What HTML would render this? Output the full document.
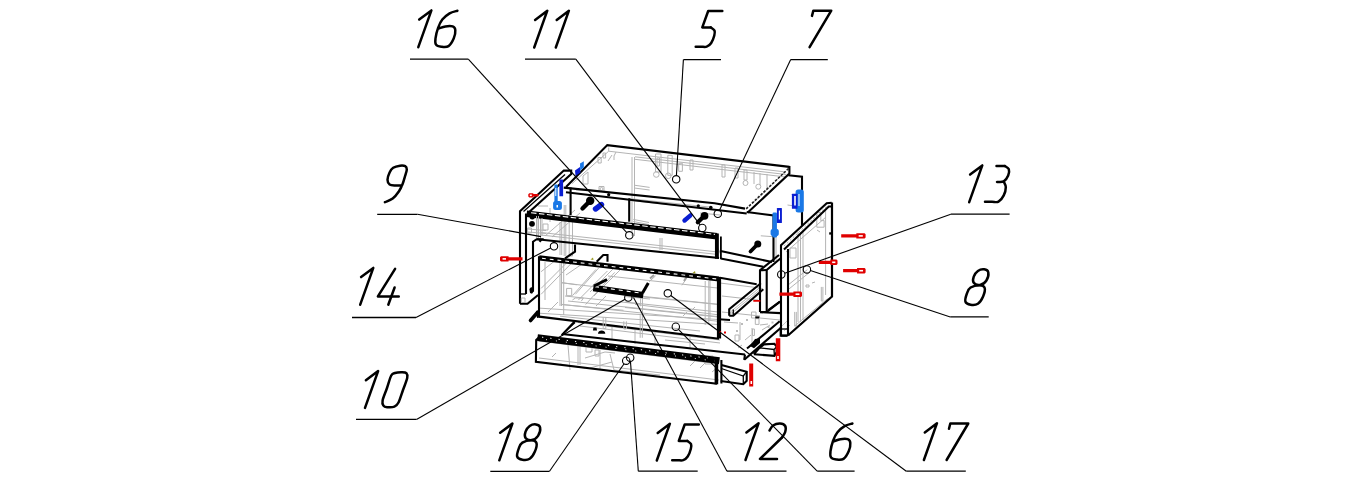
<!DOCTYPE html>
<html><head><meta charset="utf-8"><title>Assembly</title>
<style>
html,body{margin:0;padding:0;background:#fff;}
body{width:1361px;height:480px;overflow:hidden;font-family:"Liberation Sans",sans-serif;}
svg{display:block;}
.g{fill:none;stroke:#000;stroke-width:2.5;stroke-linecap:round;stroke-linejoin:round;}
.u{fill:none;stroke:#000;stroke-width:1.3;}
.l{fill:none;stroke:#000;stroke-width:1.1;}
.c{fill:none;stroke:#000;stroke-width:1.1;}
.k{fill:none;stroke:#000;stroke-width:2.1;stroke-linejoin:miter;}
.k3{fill:none;stroke:#000;stroke-width:2.2;}
.k1{fill:none;stroke:#000;stroke-width:1.3;}
.gr{fill:none;stroke:#b4b4b4;stroke-width:1;}
.gr2{fill:none;stroke:#c8c8c8;stroke-width:1;}
.dash{fill:none;stroke:#fff;stroke-width:1;stroke-dasharray:2.5 3;}
.r{fill:#e00000;stroke:none;}
.b{fill:#1e5ae6;stroke:none;}
.b2{fill:#0a14c8;stroke:none;}
.bk{fill:#000;stroke:none;}
.y{fill:#9a9a20;stroke:none;}
</style></head>
<body>
<svg width="1361" height="480" viewBox="0 0 1361 480">
<rect width="1361" height="480" fill="#fff"/>
<g id="drawing">
<path class="gr" d="M571.9,183.7 L608.7,151.2 L786,172"/>
<path class="gr" d="M608.7,147.5 L608.7,151.2"/>
<path class="gr" d="M635,156.8 L786,174.5"/>
<path class="gr" d="M635,159.3 L786,177"/>
<path class="gr" d="M632,157 L632,236"/>
<path class="gr" d="M634.5,157 L634.5,236"/>
<path class="gr" d="M633.3,219.4 L649,222.5"/>
<path class="gr" d="M633.3,221.5 L649,224.6"/>
<path class="gr" d="M634.3,185.2 L649.6,187.4"/>
<path class="gr" d="M634.3,188 L649.6,190"/>
<path class="gr" d="M655.5,154 h5.5 v18 h-5.5 z M657,158 h2.5 v8 h-2.5z"/>
<circle class="gr" cx="656.3" cy="174.5" r="2.8"/>
<path class="gr" d="M667.8,155.3 h4.4 v20 h-4.4 z"/>
<circle class="gr" cx="668.3" cy="175.8" r="2.8"/>
<path class="gr" d="M678.7,163.3 h3.7 v8 h-3.7 z"/>
<path class="gr" d="M690,160 h3 v10 h-3 z M722,165 h3 v12 h-3 z M735,168 h3 v10 h-3z M744,170 h3 v10 h-3z"/>
<circle class="gr" cx="745.5" cy="183" r="2.5"/>
<circle class="gr" cx="758.3" cy="186.7" r="2.5"/>
<path class="gr" d="M754,172 v12 M760,173 v12 M767,174 v14"/>
<path class="gr" d="M612,155 l-4,6 M616,152 l-2,4 v4"/>
<path d="M785,172 L752,204" stroke="#aaa" stroke-width="1" fill="none"/>
<path class="gr" d="M583,176 L588,172 L588,184 L583,184 L583,176"/>
<path class="gr" d="M576,190 L590,190"/>
<path class="gr" d="M598,157.5 h3.2 v5.5 h-3.2z M603,153 h2.6 v5 h-2.6z M599,186.5 h5 v5 h-5z"/>
<circle class="gr" cx="601.5" cy="189" r="1.5"/>
<path class="gr" d="M538,206 L548,206"/>
<path class="gr" d="M550,208 L550,222"/>
<path class="gr" d="M541,235 L718,254.5"/>
<path class="gr" d="M541,232.5 L718,252"/>
<path class="gr" d="M560,222 L560,255"/>
<path class="gr" d="M561.7,222 L561.7,255"/>
<path class="gr" d="M564.2,205 L564.2,256"/>
<path class="gr" d="M565.8,205 L565.8,256"/>
<path class="gr" d="M569.2,220 L569.2,256 L572.5,256 L572.5,220"/>
<path class="gr" d="M538,218 L538,240"/>
<path class="gr" d="M540.5,218 L540.5,240"/>
<path class="gr" d="M545,236 L575,210"/>
<path class="gr" d="M552,237 L580,213"/>
<path class="gr" d="M660,238 L660,250"/>
<path class="gr" d="M662,238 L662,250"/>
<path class="gr" d="M717,246 L721,255"/>
<path class="gr" d="M629,198.6 L712,207.3"/>
<path class="gr" d="M629,200.4 L712,209.1"/>
<path class="gr" d="M700,213 L720,215"/>
<path class="gr" d="M541.1,271.7 L555,260.7"/>
<path class="gr" d="M541.1,288.4 L566.6,262.9"/>
<path class="gr" d="M541.1,294.3 L571,263.7"/>
<path class="gr" d="M572.4,295.7 L595.8,269.5"/>
<path class="gr" d="M575.4,294.3 L598.7,268"/>
<path class="gr" d="M578.3,300.1 L607.4,271"/>
<path class="gr" d="M585.6,304.5 L614.7,272.4"/>
<path class="gr" d="M548,312 L558,302"/>
<path class="gr" d="M596,306 L606,296"/>
<path class="gr" d="M561.5,282.6 L576.8,284.8"/>
<path class="gr" d="M560.8,304.5 L623.5,310.3"/>
<path class="gr" d="M538.9,308.1 L718,319.5"/>
<path class="gr" d="M538.9,313.2 L718,324.5"/>
<path class="gr" d="M639.6,296 L718.3,304.3"/>
<path class="gr" d="M625,302 L718.3,312"/>
<path class="gr" d="M625,307.5 L718.3,317"/>
<path class="gr" d="M625,296.5 L650,299"/>
<path class="gr" d="M561.9,282.8 L608.7,288.4"/>
<path class="gr" d="M561.9,304.4 L717.4,321.2"/>
<path class="gr" d="M568,301 L717.4,316.5"/>
<path class="gr" d="M642.5,296.9 L717.4,304.4"/>
<path class="gr" d="M635,304.4 L717.4,314.7"/>
<path class="gr" d="M608,276 L717.4,288"/>
<path class="gr" d="M565,296 L640,304"/>
<path class="gr" d="M640.6,296.9 L640.6,306.2"/>
<path class="gr" d="M710,280 L710,320"/>
<path class="gr" d="M563.7,258 L563.7,315"/>
<path class="gr" d="M590,292 L616,266"/>
<path class="gr" d="M594,296 L620,270"/>
<path class="gr" d="M566,275 L585,262"/>
<path class="gr" d="M560,262 L560,306"/>
<path class="gr" d="M561.5,262 L561.5,306"/>
<path class="gr" d="M705.2,281 L705.2,325"/>
<path class="gr" d="M708.8,281 L708.8,325"/>
<path class="gr" d="M642.5,297 L642.5,332"/>
<path class="gr" d="M545,262 L545,300"/>
<path class="gr" d="M566.6,288.4 h5.1 v7.3 h-5.1z M572.4,300 l3,-2 h8 l-2,3 M649,281.8 l6.6,-6 M681.9,285.3 l5.8,-8.7 M683,316 l4,-4 M692,310 l3,-3"/>
<path d="M650,278.6 l4,-3.5 M684,281 l2.5,-4" stroke="#a0a0a0" stroke-width="2" fill="none"/>
<path class="gr" d="M720,283 L760,288"/>
<path class="gr" d="M722,296 L758,300"/>
<path class="gr" d="M798,232 L798,322"/>
<path class="gr" d="M800.5,232 L800.5,322"/>
<path class="gr" d="M803,230 L803,320"/>
<path class="gr" d="M825.6,211 L825.6,295"/>
<path class="gr" d="M794.7,326 L827.6,298.6"/>
<path class="gr" d="M787.7,285.3 L807.3,269.7"/>
<path class="gr" d="M787.7,290 L810,272"/>
<path class="gr" d="M786,252 L826,217"/>
<path class="gr" d="M821.3,286.9 L821.3,301 L822.9,301 L822.9,286.9"/>
<path class="gr" d="M794.7,311.9 L794.7,326 L796.3,326 L796.3,311.9"/>
<path class="gr" d="M816.8,212.6 h4 v8 h3.3 v6.6 h-7.3z M817,230 l3,2 M790,248 h6 v10 h-6z M806,285 h3 v2 h-3z M812,283 l3,-1"/>
<path class="gr2" d="M784,331 l6,-6 M782,326 l5,-5"/>
<path d="M829.2,232.3 h2.5 v2.3 h-2.5z" fill="#000"/>
<path class="k1" d="M781.5,329 L787.5,329"/>
<path class="gr" d="M731,311.5 L761,286.5"/>
<path class="gr" d="M732,313 L762,288"/>
<path class="gr" d="M722,312 L760,316"/>
<path class="gr" d="M760,318 L780,320"/>
<path class="gr" d="M740,322 L740,340"/>
<path class="gr" d="M752,328 L752,344"/>
<path class="gr" d="M762,330 L770,325"/>
<path class="gr" d="M735,335 h4 v6 h-4z M745,340 l6,-5 M738,348 l4,-3"/>
<path d="M741,323 h2 v2 h-2z M746,319 h2 v2 h-2z M767.5,326 h2 v2 h-2z M771.5,321.5 h2 v2 h-2z M736,330 h2 v2 h-2z" fill="#bbb"/>
<path class="gr" d="M751.5,312 h4.5 v6 h-4.5z M755.3,318.7 h3.7 v5.7 h-3.7z M752.5,329 h1.9 v6.6 h-1.9z M760,325 l8,-1 M724,322 l14,1"/>
<path class="gr" d="M760.8,235.8 L773.3,236.7"/>
<path class="gr" d="M787.5,205 L793.3,205.8"/>
<path class="gr" d="M776,218 L776,262"/>
<path class="gr" d="M539,341 L719,364"/>
<path class="gr" d="M539,358 L719,380"/>
<path class="gr" d="M568,345 L570,370"/>
<path class="gr" d="M578,342 L578,365"/>
<path class="gr" d="M580,342 L580,365"/>
<path class="gr" d="M585,358 L605,352 L615,353"/>
<path class="gr" d="M590,368 L612,362"/>
<path class="gr" d="M600,350 L600,370"/>
<path class="gr" d="M552,357 L556,353"/>
<path class="gr" d="M560,364 L585,368"/>
<path class="gr" d="M610,354 L614,370 L660,375"/>
<path class="gr" d="M586,346 h6 v6 h-6z M595,350 h4 v6 h-4z M690,366 l6,-6 M700,368 l5,-5 M705,356 h8 v8 h-8z M712,372 l6,-5"/>
<path class="gr" d="M578,322.5 L720,340"/>
<path class="gr" d="M580,326 L720,343"/>
<path class="gr" d="M612,325 L612,340"/>
<path class="gr" d="M635,329 L635,344"/>
<path class="gr" d="M655,332 L655,346"/>
<path class="gr" d="M665,340 L705,344"/>
<path class="gr" d="M690,335 L690,348"/>
<path class="k" d="M566,187 L607.3,145.1 L789.4,166.9"/>
<path d="M788.5,168.5 L745.5,209.5" stroke="#222" stroke-width="1.6" stroke-dasharray="2.5 1.5" fill="none"/>
<path class="k" d="M789.4,166 L789.4,173.5 L747.5,212.8"/>
<path class="k" d="M563.7,187.6 L714.6,203.3 L745,208.6"/>
<path class="k" d="M566,192.3 L746.7,213.5"/>
<path class="k" d="M629.2,198.3 L629.2,221.7"/>
<path class="k" d="M746.7,212 L773.5,215.5 L773.5,262"/>
<path class="k" d="M788.3,175.2 L802,176.7 L802,225.6"/>
<path class="k" d="M520,303.8 L520,211.2 L563.8,170.6 L571.2,170.6 L571.2,174 L527.5,213.5"/>
<path class="k" d="M526,294 L526,213.5"/>
<path class="k1" d="M523.5,211.5 L565,174.5"/>
<path class="k" d="M520,303.8 L527.5,303.8 L538.1,295"/>
<path class="k1" d="M520,294 L526,294"/>
<path class="gr" d="M521.3,298 h3.7 v4.5 h-3.7z"/>
<path class="k" d="M570.6,187.5 L570.6,215"/>
<path d="M526.7,213.7 L717,236.2" stroke="#000" stroke-width="6.6" fill="none"/>
<path d="M531,212.7 L717,234.6" stroke="#fff" stroke-width="1.1" stroke-dasharray="5.5 2.5" fill="none"/>
<path class="k" d="M536.7,239.2 L719,258"/>
<path d="M716.9,233.5 V258.7" stroke="#000" stroke-width="3.9" fill="none"/>
<path d="M720.9,236.5 V259" stroke="#000" stroke-width="1.8" fill="none"/>
<path class="k" d="M720.6,251 L772,262"/>
<path class="k" d="M720.6,258.5 L763.3,266.7"/>
<circle class="bk" cx="532.3" cy="216.8" r="2.7"/>
<circle class="bk" cx="532" cy="223.8" r="2.9"/>
<path class="gr" d="M528,229 L546,230.5"/>
<path class="gr" d="M528,232 L546,233.5"/>
<path class="gr" d="M536.5,216 L536.5,238"/>
<path class="gr" d="M538.5,216 L538.5,238"/>
<path class="gr" d="M542,218 L542,236"/>
<path class="gr" d="M527.5,228 h4 v5 h-4z M543,224 h5 v6 h-5z"/>
<path class="k" d="M533,291.5 L533,241.7 L536.7,239.2 L541.7,239.2 L539.5,241.7"/>
<path class="bk" d="M529.4,289 L531,287.3 L533.5,287.5 L534,291 L532,293.8 L530,293 Z"/>
<path class="k" d="M565,258.3 L575,251.7 L575,244.5"/>
<path d="M539.2,257.8 L719,279" stroke="#000" stroke-width="5.2" fill="none"/>
<path d="M542,258.3 L719,279.2" stroke="#fff" stroke-width="1.1" stroke-dasharray="3.8 4" fill="none"/>
<path class="k" d="M539,256.2 L539,316.8"/>
<path class="k" d="M539,316.6 L719,338.7"/>
<path d="M719,277 V338.5" stroke="#000" stroke-width="4.2" fill="none"/>
<path class="k" d="M596.7,261.7 L603.3,255 L607.5,255 L607.5,261.7"/>
<path class="y" d="M590.5,259.5 L593,257.5 L593.5,260 Z"/>
<path class="y" d="M692.5,273 L695,271 L695.5,273.5 Z"/>
<path class="k" d="M720,277.8 L756.7,284.2"/>
<path d="M593.3,288 L643.3,295.1" stroke="#000" stroke-width="6.5" fill="none"/>
<path d="M595,286.6 L642,293.3" stroke="#fff" stroke-width="1.1" stroke-dasharray="4 4" fill="none"/>
<path d="M594,286 L607,279.5" stroke="#000" stroke-width="3" fill="none"/>
<path d="M642.5,293 L648.3,283" stroke="#000" stroke-width="3" fill="none"/>
<path d="M530.5,320.5 L537.5,312.5" stroke="#000" stroke-width="3.6" stroke-linecap="round" fill="none"/>
<path class="bk" d="M536,311 L539.5,310 L540,317.5 L537,318 Z"/>
<path class="k" d="M561.7,335.2 L574.4,321.8"/>
<path class="gr" d="M603.2,317.2 L603.2,328.5 L605.8,328.5 L605.8,317.2"/>
<path class="gr" d="M623.8,321.3 L623.8,329 L626.4,329 L626.4,321.3"/>
<path class="gr" d="M640.2,315.1 L640.2,337.8"/>
<path class="gr" d="M642.3,315.1 L642.3,337.8"/>
<path class="gr" d="M560,316.2 L700,331"/>
<path class="bk" d="M592.9,330.6 L593.5,327.5 L596.5,327.5 L597,330.6 Z"/>
<path class="k1" d="M563.3,333.3 L575,322.5"/>
<path class="k" d="M562,334 L745,354.5"/>
<path class="k" d="M744.25,359.8 L781.5,327.2"/>
<path class="k" d="M747,348.5 L779.7,321.3"/>
<path class="k" d="M745,354.5 L744.25,359.8"/>
<path class="k" d="M760,312.2 L780.6,313.1"/>
<path class="k" d="M718.75,319.3 L730,320"/>
<rect x="755.3" y="316.4" width="4.2" height="2" fill="#000"/>
<path class="k" d="M780.7,327.2 L780.7,335.8 L787,335.8"/>
<path d="M537.5,337.6 L719.4,360.6" stroke="#000" stroke-width="7" fill="none"/>
<path d="M542,337.2 L719.4,359.6" stroke="#fff" stroke-width="1" stroke-dasharray="1.3 7" fill="none"/>
<path d="M546,339.6 L719.4,361.6" stroke="#fff" stroke-width="0.9" stroke-dasharray="1 9" fill="none"/>
<path class="k" d="M538.8,337.5 L536.2,340 L535.9,361.7 L717,383.8"/>
<path d="M716.4,358 V384.3" stroke="#000" stroke-width="3.6" fill="none"/>
<path class="k" d="M721.4,360 L721.4,383.5"/>
<path class="k" d="M721.4,365 L746.7,371.7 L746.7,380.8 L743.3,384.2 L720.8,381"/>
<path class="k1" d="M743.3,376 L743.3,384.2"/>
<path class="k1" d="M721.4,368.5 L743.3,376 L746.7,371.7"/>
<path class="k" d="M753.8,354.2 L759.5,347.8 L764,344.4 L774.4,343.8 L776.7,346.7 L776.7,352 L774.4,355.9 L753.8,354.2"/>
<path class="k1" d="M759.5,347.8 L774,349.5 L776.7,346.7"/>
<path class="k1" d="M774,349.5 L774.4,355.9"/>
<path class="bk" d="M750,346 L755,339 L760,338.3 L760,343 L754,348.3 Z"/>
<path class="k" d="M781,336 L781,245.3 L826.7,203.3 L831.7,202.8"/>
<path class="k3" d="M832,202.5 L832,296.5 L788,335.5"/>
<path class="k" d="M788,335.5 L788,249"/>
<path class="k" d="M781,335.5 L788,335.5"/>
<path class="k" d="M784,249.5 L828.8,206.5 L832,206.5"/>
<path d="M784,246 L828,205" stroke="#aaa" stroke-width="1" stroke-dasharray="2 2" fill="none"/>
<path class="k" d="M760,312 L760,270.3 L779,255"/>
<path class="k" d="M766.7,312 L766.7,270 L781,258"/>
<path class="k" d="M760,270.3 L766.7,270"/>
<path class="k" d="M760,312 L766.7,312 L780,301.7"/>
<path class="k" d="M768.3,310 L780,301.7"/>
<path class="k" d="M729.2,315.8 L729.2,309.2 L760.8,283.3"/>
<path class="k" d="M729.2,315.8 L733.3,315.8 L763.3,289.2"/>
<path class="k1" d="M733.3,309.5 L733.3,315.8"/>
<path class="r" d="M501,256.2 L508.55,256.2 L508.55,257.3 L522.5,257.3 L522.5,260.5 L508.55,260.5 L508.55,261.6 L501,261.6 L500,260.6 L500,257.2 Z"/>
<rect x="502.56" y="258.1" width="3.42" height="1.6" fill="#fff"/>
<path class="r" d="M529.3,193.2 L533.3,193.2 L533.3,194.1 L538.5,194.1 L538.5,196.5 L533.3,196.5 L533.3,197.4 L529.3,197.4 L528.3,196.4 L528.3,194.2 Z"/>
<rect x="529.8" y="194.5" width="2" height="1.6" fill="#fff"/>
<path class="r" d="M841.2,234.3 L856.33,234.3 L856.33,233.2 L864.6,233.2 L865.6,234.2 L865.6,237.6 L864.6,238.6 L856.33,238.6 L856.33,237.5 L841.2,237.5 Z"/>
<rect x="858.65" y="235.1" width="4.17" height="1.6" fill="#fff"/>
<path class="r" d="M843.1,269.1 L857.05,269.1 L857.05,268 L864.6,268 L865.6,269 L865.6,272.4 L864.6,273.4 L857.05,273.4 L857.05,272.3 L843.1,272.3 Z"/>
<rect x="859.19" y="269.9" width="3.85" height="1.6" fill="#fff"/>
<path class="r" d="M818.8,260.7 L830.39,260.7 L830.39,259.6 L836.5,259.6 L837.5,260.6 L837.5,264 L836.5,265 L830.39,265 L830.39,263.9 L818.8,263.9 Z"/>
<rect x="832.17" y="261.5" width="3.2" height="1.6" fill="#fff"/>
<path class="r" d="M779.4,292.6 L793.41,292.6 L793.41,291.5 L801,291.5 L802,292.5 L802,295.9 L801,296.9 L793.41,296.9 L793.41,295.8 L779.4,295.8 Z"/>
<rect x="795.56" y="293.4" width="3.86" height="1.6" fill="#fff"/>
<path class="r" d="M749.2,363.5 h4 v23 h-4z M775.8,338.3 h4.5 v23 h-4.5z M753.3,300 h7 v1.8 h-7z"/>
<path d="M750.5,381 h1.6 v3 h-1.6z M777.2,356 h1.6 v3 h-1.6z" fill="#fff"/>
<path class="r" d="M719,331 L721,331 L721,333 L719,333 Z"/>
<path class="r" d="M724,331.5 L726,331.5 L726,333.5 L724,333.5 Z"/>
<path fill="#0a1ed2" d="M575,170.5 L580,166.9 L580.5,172.5 L575.5,176 Z"/>
<path fill="#1a78e6" d="M580,163.5 L583.8,161.2 L583.8,167.5 L580.2,170.5 Z"/>
<rect x="559.4" y="179.4" width="3.7" height="16.8" rx="0.5" fill="#0a1ed2"/>
<rect x="554.4" y="184.5" width="3.3" height="20" rx="1" fill="#1a78e6"/>
<rect x="553.1" y="201" width="8.8" height="9" rx="2.5" fill="#1a78e6"/>
<rect x="556.5" y="205" width="1.5" height="2.5" fill="#fff"/>
<rect x="555.3" y="188" width="1" height="8" fill="#fff"/>
<rect x="795.6" y="189.4" width="8.2" height="23.1" rx="2.5" fill="#1a78e6"/>
<rect x="791.9" y="193.7" width="5.6" height="15" rx="0.5" fill="#0a1ed2"/>
<rect x="794.2" y="196" width="1.6" height="9.5" fill="#fff"/>
<rect x="798.5" y="194" width="1" height="12" fill="#fff"/>
<rect x="772.5" y="212.5" width="4.4" height="25" rx="1.2" fill="#1a78e6"/>
<rect x="770.6" y="228.7" width="8.2" height="7.6" rx="2.8" fill="#1a78e6"/>
<rect x="776.9" y="208.1" width="5" height="15" rx="0.5" fill="#0a1ed2"/>
<rect x="778.8" y="210.5" width="1.2" height="9" fill="#fff"/>
<path d="M595.5,209 L601.5,204.5" stroke="#0a1ed2" stroke-width="5.4" stroke-linecap="round" fill="none"/>
<path d="M684.5,220.5 L690.5,215.3" stroke="#0a1ed2" stroke-width="4.4" stroke-linecap="round" fill="none"/>
<path d="M590.2,200.8 L582.5,208.5" stroke="#000" stroke-width="4.4" stroke-linecap="round" fill="none"/>
<circle class="bk" cx="590.2" cy="200.8" r="4.2"/>
<path d="M704.5,215.8 L697.8,222.2" stroke="#000" stroke-width="4.2" stroke-linecap="round" fill="none"/>
<circle class="bk" cx="704.5" cy="215.8" r="3.9"/>
<path d="M757.8,244 L750.5,251.5" stroke="#000" stroke-width="3.8" stroke-linecap="round" fill="none"/>
<circle class="bk" cx="757.8" cy="244" r="3.5"/>
<circle class="bk" cx="698.3" cy="205.8" r="1.6"/>
<circle class="bk" cx="710.8" cy="207.5" r="1.8"/>
<circle class="bk" cx="608.7" cy="194.7" r="1.6"/>
<path d="M598,333.7 C598,329.5 605.3,329.5 605.3,333.7 Z" fill="#000"/>
</g>
<g id="leaders">
<path class="u" d="M410,59.2 H468.3"/>
<path class="l" d="M468.3,59.2 L626.8,232.57"/>
<path class="u" d="M525,59.2 H575.8"/>
<path class="l" d="M575.8,59.2 L700.08,224.94"/>
<path class="u" d="M683.4,59.6 H721"/>
<path class="l" d="M683.4,59.6 L676.42,175.61"/>
<path class="u" d="M790.7,59.6 H827.8"/>
<path class="l" d="M790.7,59.6 L719.38,210.45"/>
<path class="u" d="M377.2,214.3 H417.5"/>
<path class="l" d="M417.5,214.3 L541,236.6"/>
<path class="u" d="M950.8,214.2 H1009.6"/>
<path class="l" d="M950.8,214.2 L784.74,273.16"/>
<path class="u" d="M950.3,316.9 H988.7"/>
<path class="l" d="M950.3,316.9 L810.41,270.56"/>
<path class="u" d="M352,317.5 H416"/>
<path class="l" d="M416,317.5 L550.71,248"/>
<path class="u" d="M356,419.4 H416.5"/>
<path class="l" d="M416.5,419.4 L625.09,299.35"/>
<path class="u" d="M490.3,471.3 H549.5"/>
<path class="l" d="M549.5,471.3 L624.09,363.74"/>
<path class="u" d="M638.3,471.2 H697.7"/>
<path class="l" d="M638.3,471.2 L630.46,361.39"/>
<path class="u" d="M727,471.2 H786.5"/>
<path class="l" d="M727,471.2 L633.5,297.5"/>
<path class="u" d="M817.2,471.2 H854.6"/>
<path class="l" d="M817.2,471.2 L678.39,329.34"/>
<path class="u" d="M906.3,471.2 H965.8"/>
<path class="l" d="M906.3,471.2 L670.77,295.51"/>
<circle class="c" cx="667.8" cy="293.3" r="3.7"/>
<circle class="c" cx="628.3" cy="297.5" r="3.7"/>
<circle class="c" cx="806.9" cy="269.4" r="3.7"/>
<circle class="c" cx="702.3" cy="227.9" r="3.7"/>
<circle class="c" cx="554" cy="246.3" r="3.7"/>
<circle class="c" cx="626.2" cy="360.7" r="3.7"/>
<circle class="c" cx="630.2" cy="357.7" r="3.7"/>
<circle class="c" cx="781.25" cy="274.4" r="3.7"/>
<circle class="c" cx="675.8" cy="326.7" r="3.7"/>
<circle class="c" cx="717.8" cy="213.8" r="3.7"/>
<circle class="c" cx="629.3" cy="235.3" r="3.7"/>
<circle class="c" cx="676.2" cy="179.3" r="3.7"/>
</g>
<g id="labels">
<path class="g" d="M419.2,19.6 L431.4,10.4 L418.3,47.2"/>
<path class="g" d="M457.4,10.7 C456.1,11.13 452.12,11.82 449.6,13.3 C447.08,14.78 444.22,17.17 442.3,19.6 C440.38,22.03 439.23,24.78 438.1,27.9 C436.97,31.02 435.85,35.52 435.5,38.3 C435.15,41.08 435.03,43.2 436,44.6 C436.97,46 439.22,46.45 441.3,46.7 C443.38,46.95 446.42,47.5 448.5,46.1 C450.58,44.7 452.67,40.98 453.8,38.3 C454.93,35.62 455.48,31.98 455.3,30 C455.12,28.02 454.35,27 452.7,26.4 C451.05,25.8 447.65,26.07 445.4,26.4 C443.15,26.73 440.23,28.07 439.2,28.4"/>
<path class="g" d="M535.1,19.9 L547.3,10.7 L534.2,47.5"/>
<path class="g" d="M556.7,19.9 L568.9,10.7 L555.8,47.5"/>
<path class="g" d="M722.3,11 L708.2,11 L702.3,27.4 L710.8,27.4"/>
<path class="g" d="M710.8,27.4 C711.42,27.92 713.92,29.15 714.5,30.5 C715.08,31.85 714.85,33.42 714.3,35.5 C713.75,37.58 712.47,41.13 711.2,43 C709.93,44.87 708.4,46.08 706.7,46.7 C705,47.32 702.83,46.7 701,46.7 C699.17,46.7 696.58,46.7 695.7,46.7"/>
<path class="g" d="M812,15.9 L813.3,10.7 L831.25,10.7 L809.6,47.2"/>
<path class="g" d="M384.9,202.2 C386.2,201.58 390.35,200.33 392.7,198.5 C395.05,196.67 397.35,193.62 399,191.2 C400.65,188.78 401.57,186.6 402.6,184 C403.63,181.4 404.5,178.03 405.2,175.6 C405.9,173.17 406.8,170.97 406.8,169.4 C406.8,167.83 406.33,166.82 405.2,166.2 C404.07,165.58 402,165.43 400,165.7 C398,165.97 394.93,166.67 393.2,167.8 C391.47,168.93 390.55,170.5 389.6,172.5 C388.65,174.5 387.5,177.8 387.5,179.8 C387.5,181.8 388.22,183.55 389.6,184.5 C390.98,185.45 393.73,185.33 395.8,185.5 C397.87,185.67 400.97,185.5 402,185.5"/>
<path class="g" d="M970.1,174.6 L982.3,165.4 L969.2,202.2"/>
<path class="g" d="M996.5,166 L1004.8,166"/>
<path class="g" d="M1004.8,166 C1005.47,166.53 1008.23,167.6 1008.8,169.2 C1009.37,170.8 1009.04,173.57 1008.2,175.6 C1007.36,177.63 1005.62,180.35 1003.75,181.4 C1001.88,182.45 998.12,181.82 997,181.9"/>
<path class="g" d="M1003.75,181.6 C1004.09,182.53 1005.8,184.9 1005.8,187.2 C1005.8,189.5 1004.97,192.98 1003.75,195.4 C1002.53,197.82 1000.46,200.65 998.5,201.7 C996.54,202.75 994.25,201.7 992,201.7 C989.75,201.7 986.17,201.7 985,201.7"/>
<path class="g" d="M984.2,269.3 C985.93,269.55 987.96,270.49 988.3,272.4 C988.64,274.31 987.63,278.67 986.25,280.75 C984.87,282.83 982.08,284.56 980,284.9 C977.92,285.24 974.79,284.18 973.75,282.8 C972.71,281.42 973.06,278.58 973.75,276.6 C974.44,274.62 976.16,272.12 977.9,270.9 C979.64,269.68 982.47,269.05 984.2,269.3 Z"/>
<path class="g" d="M980,285.2 C982.35,285.28 984.18,286.13 984.7,288 C985.22,289.87 984.23,293.78 983.1,296.4 C981.97,299.02 979.98,302.32 977.9,303.7 C975.82,305.08 972.68,305.05 970.6,304.7 C968.52,304.35 966,303.51 965.4,301.6 C964.8,299.69 966.13,295.6 967,293.25 C967.87,290.9 968.43,288.84 970.6,287.5 C972.77,286.16 977.65,285.12 980,285.2 Z"/>
<path class="g" d="M361.1,277.1 L373.3,267.9 L360.2,304.7"/>
<path class="g" d="M395.1,268.8 L377.9,296.4 L398.75,296.4"/>
<path class="g" d="M394.6,287.5 L388.3,304.7"/>
<path class="g" d="M365.9,380.3 L378.1,371.1 L365,407.9"/>
<path class="g" d="M401.7,372.3 C399.8,372.27 396.74,372.47 395,373 C393.26,373.53 392.58,373 391.25,375.5 C389.92,378 388.44,383.85 387,388 C385.56,392.15 383.2,397.47 382.6,400.4 C382,403.33 382.65,404.47 383.4,405.6 C384.15,406.73 385.27,407.02 387.1,407.2 C388.93,407.38 392.5,407.48 394.4,406.7 C396.3,405.92 397.07,405.28 398.5,402.5 C399.93,399.72 401.55,394.08 403,390 C404.45,385.92 406.63,380.8 407.2,378 C407.77,375.2 407.32,374.15 406.4,373.2 C405.48,372.25 403.6,372.33 401.7,372.3 Z"/>
<path class="g" d="M500.2,432.7 L512.4,423.5 L499.3,460.3"/>
<path class="g" d="M536,424.4 C537.73,424.65 539.76,425.59 540.1,427.5 C540.44,429.41 539.43,433.77 538.05,435.85 C536.67,437.93 533.88,439.66 531.8,440 C529.72,440.34 526.59,439.28 525.55,437.9 C524.51,436.52 524.86,433.68 525.55,431.7 C526.24,429.72 527.96,427.22 529.7,426 C531.44,424.78 534.27,424.15 536,424.4 Z"/>
<path class="g" d="M531.8,440.3 C534.15,440.38 535.98,441.23 536.5,443.1 C537.02,444.97 536.03,448.88 534.9,451.5 C533.77,454.12 531.78,457.42 529.7,458.8 C527.62,460.18 524.48,460.15 522.4,459.8 C520.32,459.45 517.8,458.61 517.2,456.7 C516.6,454.79 517.93,450.7 518.8,448.35 C519.67,446 520.23,443.94 522.4,442.6 C524.57,441.26 529.45,440.22 531.8,440.3 Z"/>
<path class="g" d="M657.7,432.9 L669.9,423.7 L656.8,460.5"/>
<path class="g" d="M698.8,424.5 L684.7,424.5 L678.8,440.9 L687.3,440.9"/>
<path class="g" d="M687.3,440.9 C687.92,441.42 690.42,442.65 691,444 C691.58,445.35 691.35,446.92 690.8,449 C690.25,451.08 688.97,454.63 687.7,456.5 C686.43,458.37 684.9,459.58 683.2,460.2 C681.5,460.82 679.33,460.2 677.5,460.2 C675.67,460.2 673.08,460.2 672.2,460.2"/>
<path class="g" d="M746.4,432.4 L758.6,423.2 L745.5,460"/>
<path class="g" d="M769.5,430.5 C770.08,429.67 771.25,426.67 773,425.5 C774.75,424.33 777.97,423.42 780,423.5 C782.03,423.58 784.33,424.58 785.2,426 C786.07,427.42 785.73,430.08 785.2,432 C784.67,433.92 782.53,436.58 782,437.5"/>
<path class="g" d="M782,437.5 L760,459 L777,459"/>
<path class="g" d="M852.4,423.5 C851.1,423.93 847.12,424.62 844.6,426.1 C842.08,427.58 839.22,429.97 837.3,432.4 C835.38,434.83 834.23,437.58 833.1,440.7 C831.97,443.82 830.85,448.32 830.5,451.1 C830.15,453.88 830.03,456 831,457.4 C831.97,458.8 834.22,459.25 836.3,459.5 C838.38,459.75 841.42,460.3 843.5,458.9 C845.58,457.5 847.67,453.78 848.8,451.1 C849.93,448.42 850.48,444.78 850.3,442.8 C850.12,440.82 849.35,439.8 847.7,439.2 C846.05,438.6 842.65,438.87 840.4,439.2 C838.15,439.53 835.23,440.87 834.2,441.2"/>
<path class="g" d="M924.8,432.4 L937,423.2 L923.9,460"/>
<path class="g" d="M949,428.7 L950.3,423.5 L968.25,423.5 L946.6,460"/>
</g>
</svg>
</body></html>
